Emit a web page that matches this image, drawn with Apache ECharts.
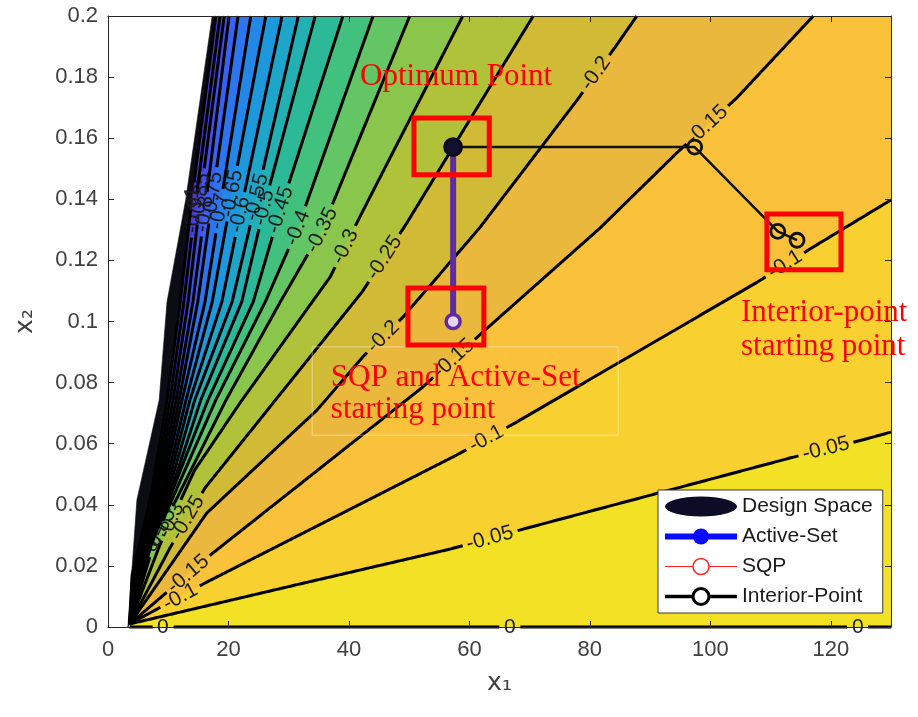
<!DOCTYPE html>
<html><head><meta charset="utf-8">
<script src="https://cdn.jsdelivr.net/npm/echarts@6/dist/echarts.min.js"></script>
<style>html,body{margin:0;padding:0;background:#fff}#c{width:918px;height:717px}</style>
</head><body><div id="c"></div>
<script>
// ---- contour levels ----
const levels = [0, -0.05, -0.1, -0.15, -0.2, -0.25, -0.3, -0.35, -0.4, -0.45, -0.5, -0.55, -0.6, -0.65, -0.7, -0.75, -0.8, -0.85, -0.9, -1];
// ---- contour lines (x1, x2) ----
const c000 = [[3.6,0],[130,0]];
const c005 = [[3.6,0.001],[31.9,0.0141],[56.8,0.0255],[69.6,0.0324],[113.2,0.0553],[125.2,0.0612],[130,0.0638]];
const c010 = [[3.6,0.001],[16.4,0.0147],[57.9,0.0563],[67.6,0.0668],[107.8,0.1129],[117.1,0.1244],[130,0.1398]];
const c015 = [[3.6,0.001],[17.4,0.0242],[52.3,0.0786],[62.6,0.0972],[81.7,0.1306],[94.6,0.1555],[104.4,0.1732],[117.1,0.2]];
const c020 = [[3.6,0.001],[16.4,0.0373],[34.7,0.0710],[42.3,0.0884],[49.0,0.1015],[61.8,0.1309],[77.9,0.1725],[84.2,0.1898],[87.8,0.2]];
const c025 = [[3.6,0.001],[10.3,0.0259],[16.1,0.0455],[27.4,0.0733],[42.2,0.1097],[49.6,0.1322],[57.3,0.1571],[70.6,0.2]];
const c030 = [[3.6,0.001],[8.6,0.0268],[14.4,0.0514],[21.9,0.0733],[33.9,0.1064],[36.9,0.1146],[41.8,0.1342],[58.9,0.2]];
const c035 = [[3.6,0.001],[7.8,0.0285],[11.3,0.0416],[19.6,0.0743],[28.6,0.1064],[35.5,0.1299],[50.1,0.2]];
const c040 = [[3.6,0.001],[7.3,0.0268],[10.6,0.0416],[17.9,0.0743],[26.1,0.1064],[31.5,0.1306],[44.0,0.2]];
const c045 = [[3.6,0.001],[7.0,0.0259],[10.1,0.0416],[16.6,0.0743],[24.1,0.1064],[28.6,0.1365],[39.0,0.2]];
const c050 = [[3.6,0.001],[6.6,0.0252],[9.96,0.0416],[15.4,0.0743],[22.2,0.1064],[26.2,0.1398],[34.4,0.2]];
const c055 = [[3.6,0.001],[6.3,0.0245],[9.63,0.0416],[14.4,0.0743],[20.6,0.1064],[24.6,0.1398],[31.6,0.2]];
const c060 = [[3.6,0.001],[6.0,0.0236],[9.3,0.0416],[13.6,0.0743],[18.9,0.1064],[22.4,0.1398],[28.9,0.2]];
const c065 = [[3.6,0.001],[5.6,0.0229],[8.97,0.0416],[12.95,0.0743],[17.3,0.1064],[20.4,0.1398],[26.2,0.2]];
const c070 = [[3.6,0.001],[5.3,0.0219],[8.63,0.0416],[12.3,0.0743],[16.1,0.1064],[18.8,0.1398],[23.7,0.2]];
const c075 = [[3.6,0.001],[5.0,0.0209],[8.3,0.0416],[11.8,0.0743],[14.9,0.1064],[17.3,0.1398],[21.6,0.2]];
const c080 = [[3.6,0.001],[4.6,0.0203],[7.97,0.0416],[11.3,0.0743],[14.1,0.1064],[16.3,0.1398],[20.1,0.2]];
const c085 = [[3.6,0.001],[4.5,0.0196],[7.64,0.0416],[10.8,0.0743],[13.3,0.1064],[15.3,0.1398],[19.3,0.2]];
const c090 = [[3.6,0.001],[4.3,0.0187],[7.31,0.0416],[10.3,0.0743],[12.6,0.1064],[14.6,0.1398],[18.6,0.2]];
const c100 = [[3.6,0.001],[4.0,0.017],[6.97,0.0416],[9.8,0.0743],[12.0,0.1064],[13.9,0.1398],[17.9,0.2]];
const designBoundary = [[3.3,0],[4.8,0.0416],[8.5,0.0743],[9.8,0.1064],[12.9,0.1398],[17.3,0.2]];
// ---- inline contour label anchors ----
const lab000 = [[9.1,0],[66.7,0],[124.5,0]];
const lab005 = [[63.4,0.029],[119.2,0.0583]];
const lab010 = [[12.0,0.0098],[62.8,0.0616],[112.4,0.1187]];
const lab015 = [[13.3,0.0173],[57.4,0.0879],[99.5,0.1643]];
const lab020 = [[45.7,0.0950],[81.0,0.1812]];
const lab025 = [[13.2,0.0357],[45.9,0.1209]];
const lab030 = [[10.5,0.0349],[39.4,0.1245]];
const lab035 = [[8.6,0.0315],[35.5,0.1299]];
const lab040 = [[7.6,0.0281],[31.5,0.1306]];
const lab045 = [[28.6,0.1365]];
const lab050 = [[25.9,0.1373]];
const lab055 = [[24.7,0.1407]];
const lab060 = [[21.9,0.1350]];
const lab065 = [[20.6,0.1419]];
const lab070 = [[18.5,0.1361]];
const lab075 = [[17.4,0.1412]];
const lab080 = [[16.0,0.1352]];
const lab085 = [[15.4,0.1408]];
const lab090 = [[14.3,0.1348]];
const lab100 = [[14.0,0.1410]];
// ---- optimisation paths ----
const activeSetPath = [[57.3,0.1],[57.3,0.1571]];
const sqpPath = [[57.3,0.1],[57.3,0.1571]];
const interiorPointPath = [[114.4,0.1266],[111.2,0.1295],[97.4,0.1571],[57.3,0.1571]];
// ---- annotations ----
const annotationTexts = ['Optimum Point','Interior-point','starting point','SQP and Active-Set','starting point'];
const annotationAnchors = [[57.8,0.18],[105.1,0.1028],[105.1,0.0917],[37.0,0.0815],[37.0,0.071]];
const annotationAlign = ['center','left','left','left','left'];
const highlightBoxes = [[50.8,0.1666,63.3,0.148],[49.8,0.111,62.4,0.0923],[109.4,0.1352,121.7,0.1169]];
const textFrame = [33.9,0.0917,84.7,0.0628];

const contourPaths = [c000,c005,c010,c015,c020,c025,c030,c035,c040,c045,c050,c055,c060,c065,c070,c075,c080,c085,c090,c100];
const contourLabels = [lab000,lab005,lab010,lab015,lab020,lab025,lab030,lab035,lab040,lab045,lab050,lab055,lab060,lab065,lab070,lab075,lab080,lab085,lab090,lab100];
const bandEdges = contourPaths.concat([designBoundary]);
const bandColors = ['#f2e125','#f8d02f','#f9c23a','#e9b83d','#d1ba36','#afc23a','#89c64b','#63c563','#42c07d','#2bb998',
  '#22b0b3','#1ea5ca','#1e98dc','#2387e8','#2d74ef','#3862f3','#4350ee','#4843e0','#4b37cc','#0c0c14'];

const LABEL_FS = 21;
const SANS = '"Liberation Sans", Arial, sans-serif';
const SERIF = '"Liberation Serif", "Times New Roman", serif';
const mctx = document.createElement('canvas').getContext('2d');
function textW(t){ mctx.font = LABEL_FS + 'px ' + SANS; return mctx.measureText(t).width; }

function renderBand(params, api){
  const i = params.dataIndex;
  const a = bandEdges[i], b = bandEdges[i+1];
  let pts = a.slice();
  const ea = a[a.length-1], eb = b[b.length-1];
  if (ea[0] >= 130 && ea[1] < 0.2 && eb[1] >= 0.2) pts.push([130, 0.2]);
  pts = pts.concat(b.slice().reverse());
  return {type:'polygon', shape:{points: pts.map(p => api.coord(p))},
    style:{fill: bandColors[i], stroke: bandColors[i], lineWidth: 0.6}};
}

function renderContour(params, api){
  const i = params.dataIndex;
  const pts = contourPaths[i].map(p => api.coord(p));
  const labs = contourLabels[i].map(p => api.coord(p));
  const text = String(levels[i]);
  const r = textW(text)/2 + 4;
  const dense = [];
  for (let k = 0; k < pts.length-1; k++){
    const a = pts[k], b = pts[k+1];
    const n = Math.max(1, Math.ceil(Math.hypot(b[0]-a[0], b[1]-a[1])));
    for (let j = 0; j < n; j++) dense.push([a[0]+(b[0]-a[0])*j/n, a[1]+(b[1]-a[1])*j/n]);
  }
  dense.push(pts[pts.length-1]);
  const children = [];
  let run = [];
  const flush = () => { if (run.length > 1) children.push({type:'polyline', shape:{points: run},
    style:{stroke:'#000', lineWidth:3, fill:null, lineJoin:'round', lineCap:'butt'}}); run = []; };
  for (const p of dense){
    if (labs.some(l => Math.hypot(p[0]-l[0], p[1]-l[1]) < r)) flush(); else run.push(p);
  }
  flush();
  labs.forEach(l => {
    let best = 0, bd = 1e9;
    dense.forEach((p, idx) => { const d = Math.hypot(p[0]-l[0], p[1]-l[1]); if (d < bd){ bd = d; best = idx; } });
    const p1 = dense[Math.max(0, best-8)], p2 = dense[Math.min(dense.length-1, best+8)];
    let ang = Math.atan2(-(p2[1]-p1[1]), p2[0]-p1[0]);
    if (ang > Math.PI/2) ang -= Math.PI;
    if (ang < -Math.PI/2) ang += Math.PI;
    children.push({type:'text', x:l[0], y:l[1], rotation:ang,
      style:{text:text, fontSize:LABEL_FS, fontFamily:SANS, fill:'#1c1c1c', align:'center', verticalAlign:'middle'}});
  });
  return {type:'group', children};
}

function renderAnnot(params, api){
  if (params.dataIndex !== 0) return null;
  const children = [];
  const f1 = api.coord([textFrame[0], textFrame[1]]), f2 = api.coord([textFrame[2], textFrame[3]]);
  children.push({type:'rect', shape:{x:f1[0], y:f1[1], width:f2[0]-f1[0], height:f2[1]-f1[1]},
    style:{fill:null, stroke:'rgba(255,255,255,0.45)', lineWidth:1}});
  highlightBoxes.forEach(b => {
    const p1 = api.coord([b[0], b[1]]), p2 = api.coord([b[2], b[3]]);
    children.push({type:'rect', shape:{x:p1[0], y:p1[1], width:p2[0]-p1[0], height:p2[1]-p1[1]},
      style:{fill:null, stroke:'#ff0000', lineWidth:5}});
  });
  annotationTexts.forEach((t, k) => {
    const p = api.coord(annotationAnchors[k]);
    children.push({type:'text', x:p[0], y:p[1],
      style:{text:t, fontSize:31, fontFamily:SERIF, fill:'#ff0000', align:annotationAlign[k], verticalAlign:'middle'}});
  });
  return {type:'group', children};
}

const chart = echarts.init(document.getElementById('c'), null, {renderer:'canvas'});
const axisCommon = {
  type:'value', z:10,
  axisLine:{show:true, onZero:false, lineStyle:{color:'#262626', width:1}},
  axisTick:{show:true, inside:true, length:6, lineStyle:{color:'#262626'}},
  splitLine:{show:false}
};
chart.setOption({
  animation:false,
  backgroundColor:'#ffffff',
  grid:{left:108, top:16, width:783, height:611, containLabel:false},
  xAxis:[
    Object.assign({}, axisCommon, {min:0, max:130, interval:20, position:'bottom',
      axisLabel:{fontSize:22, color:'#404040', fontFamily:SANS, margin:12, showMaxLabel:false},
      name:'x\u2081', nameLocation:'middle', nameGap:44,
      nameTextStyle:{fontSize:25, color:'#404040', fontFamily:'"DejaVu Sans", sans-serif'}}),
    Object.assign({}, axisCommon, {min:0, max:130, interval:20, position:'top', axisLabel:{show:false}})
  ],
  yAxis:[
    Object.assign({}, axisCommon, {min:0, max:0.2, interval:0.02, position:'left',
      axisLabel:{fontSize:22, color:'#404040', fontFamily:SANS, margin:10},
      name:'x\u2082', nameLocation:'middle', nameGap:70, nameRotate:90,
      nameTextStyle:{fontSize:25, color:'#404040', fontFamily:'"DejaVu Sans", sans-serif'}}),
    Object.assign({}, axisCommon, {min:0, max:0.2, interval:0.02, position:'right', axisLabel:{show:false}})
  ],
  legend:{
    left:658, top:490, orient:'vertical', selectedMode:false,
    backgroundColor:'#ffffff', borderColor:'#3a3a3a', borderWidth:1,
    padding:[6,10,6,4], itemWidth:72, itemHeight:20, itemGap:9,
    textStyle:{fontSize:21, color:'#1a1a1a', fontFamily:SANS},
    data:[
      {name:'Design Space', icon:'path://M0,10a36,10 0 1,0 72,0a36,10 0 1,0 -72,0z', itemStyle:{color:'#0c0c26'}},
      {name:'Active-Set', itemStyle:{color:'#0a0aff'}, lineStyle:{color:'#0a0aff', width:6}},
      {name:'SQP', itemStyle:{color:'#ffffff', borderColor:'#ff2020', borderWidth:1.5}, lineStyle:{color:'#ff2020', width:1.2}},
      {name:'Interior-Point', itemStyle:{color:'#ffffff', borderColor:'#000000', borderWidth:3}, lineStyle:{color:'#000000', width:3.5}}
    ]
  },
  series:[
    {name:'Design Space', type:'custom', renderItem:renderBand, clip:true, silent:true, z:1,
      data: bandColors.map(() => [0, 0])},
    {name:'contours', type:'custom', renderItem:renderContour, clip:false, silent:true, z:2,
      data: levels.map(() => [0, 0])},
    {name:'Active-Set', type:'line', z:5, data:activeSetPath, symbol:'circle', symbolSize:14,
      lineStyle:{color:'#5a2da6', width:6}, itemStyle:{color:'#5a2da6'}},
    {name:'SQP', type:'line', z:6, data:sqpPath, symbol:'circle', symbolSize:14,
      lineStyle:{color:'#6a2aa6', width:1.5}, itemStyle:{color:'#e6d6ee', borderColor:'#5f2aa3', borderWidth:3.5}},
    {name:'Interior-Point', type:'line', z:7, data:interiorPointPath.map((p, k) =>
        k === interiorPointPath.length-1 ? {value:p, symbolSize:17, itemStyle:{color:'#121230', borderColor:'#0a0a1a'}} : p),
      symbol:'circle', symbolSize:14,
      lineStyle:{color:'#111111', width:2.5}, itemStyle:{color:'rgba(0,0,0,0)', borderColor:'#111111', borderWidth:2.8}},
    {name:'annotations', type:'custom', renderItem:renderAnnot, clip:false, silent:true, z:20,
      data:[[0,0]]}
  ]
});
</script></body></html>
